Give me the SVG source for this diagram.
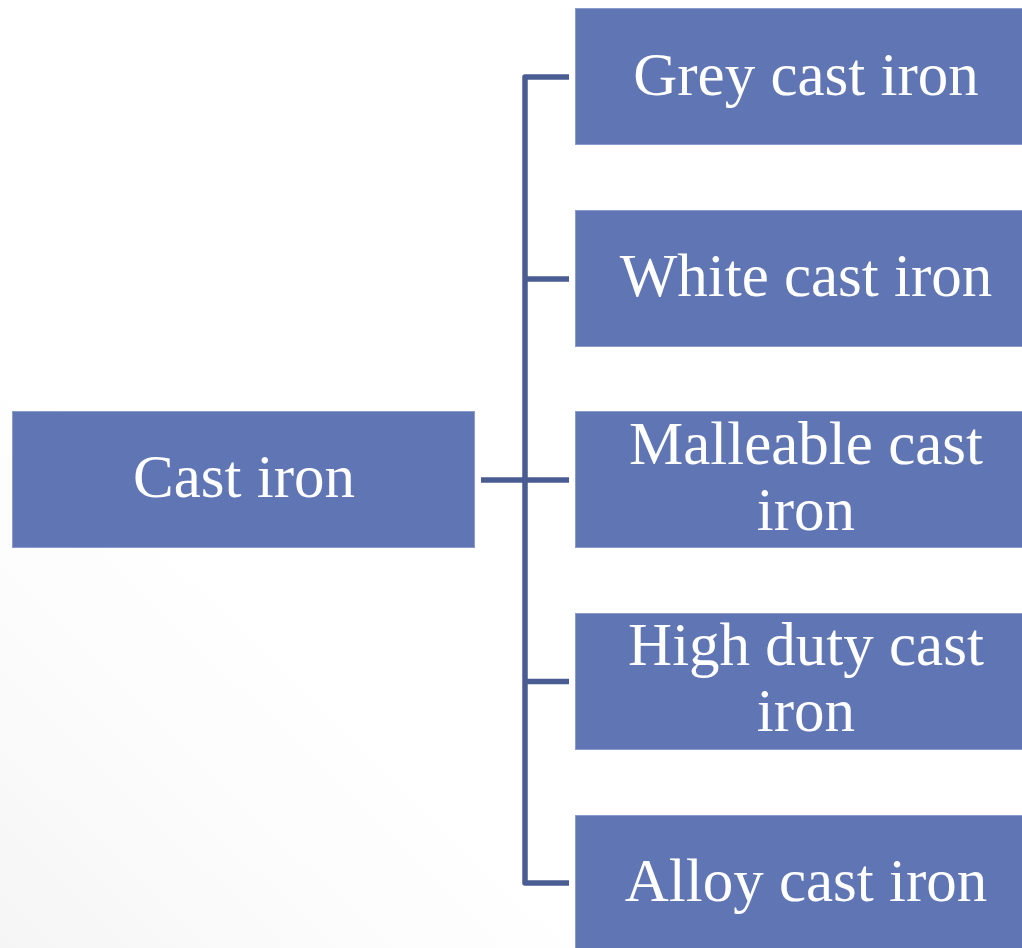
<svg xmlns="http://www.w3.org/2000/svg" width="1022" height="948" viewBox="0 0 1022 948">
  <defs>
    <linearGradient id="bg" x1="0" y1="948" x2="300" y2="640" gradientUnits="userSpaceOnUse">
      <stop offset="0" stop-color="#f5f5f5"/>
      <stop offset="0.5" stop-color="#fbfbfb"/>
      <stop offset="1" stop-color="#ffffff"/>
    </linearGradient>
  </defs>
  <style>
    .box { fill: #6076b4; stroke: #8b9ccc; stroke-width: 1; }
    .label { font-family: "Liberation Serif", "DejaVu Serif", serif; font-size: 61px; fill: #ffffff; text-anchor: middle; }
    .conn { fill: none; stroke: #4a5d93; stroke-width: 5.5; stroke-linejoin: round; stroke-linecap: butt; }
  </style>

  <rect x="0" y="0" width="1022" height="948" fill="url(#bg)"/>

  <!-- connectors -->
  <g id="connectors">
    <path class="conn" d="M569,77 H525 V883 H569"/>
    <path class="conn" d="M569,279 H525"/>
    <path class="conn" d="M481,480 H569"/>
    <path class="conn" d="M569,681.5 H525"/>
  </g>

  <!-- root -->
  <g id="cast-iron">
    <rect class="box" x="12.5" y="411.5" width="462" height="136"/>
    <text class="label" x="244" y="497">Cast iron</text>
  </g>

  <!-- branches -->
  <g id="grey-cast-iron">
    <rect class="box" x="575.5" y="8.5" width="460" height="136"/>
    <text class="label" x="806" y="95">Grey cast iron</text>
  </g>

  <g id="white-cast-iron">
    <rect class="box" x="575.5" y="210.5" width="460" height="136"/>
    <text class="label" x="806" y="296">White cast iron</text>
  </g>

  <g id="malleable-cast-iron">
    <rect class="box" x="575.5" y="411.5" width="460" height="136"/>
    <text class="label" x="806" y="464">Malleable cast</text>
    <text class="label" x="806" y="530">iron</text>
  </g>

  <g id="high-duty-cast-iron">
    <rect class="box" x="575.5" y="613.5" width="460" height="136"/>
    <text class="label" x="806" y="665">High duty cast</text>
    <text class="label" x="806" y="731">iron</text>
  </g>

  <g id="alloy-cast-iron">
    <rect class="box" x="575.5" y="815.5" width="460" height="140"/>
    <text class="label" x="806" y="901">Alloy cast iron</text>
  </g>
</svg>
